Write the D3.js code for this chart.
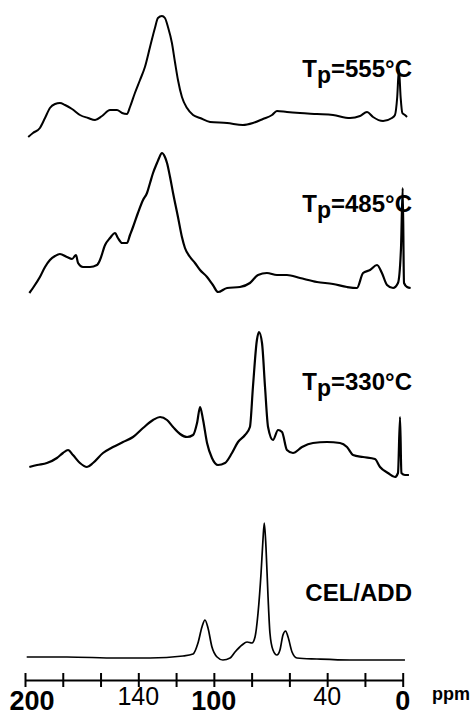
<!DOCTYPE html>
<html>
<head>
<meta charset="utf-8">
<script src="https://cdn.jsdelivr.net/npm/d3@7"></script>
<style>
  body { margin: 0; background: #fff; }
  svg { display: block; font-family: "Liberation Sans", Arial, sans-serif; }
</style>
</head>
<body>
<div id="chart"></div>
<script>
// chemical shift (ppm), intensity (arb. units)
const tp555 = [
  [198.3,0],[195.8,4],[192.1,9],[189.4,19],[186.8,29],[184.1,33],[181.5,34],[178.8,32],
  [175.1,28],[170.9,22],[166.6,19],[162.9,17],[159.2,21],[155.0,27],[151.3,27],[148.6,24],
  [146.0,23],[144.4,30],[141.8,44],[139.1,57],[136.5,70],[133.8,90],[131.2,109],[129.6,119],
  [127.5,121],[125.9,119],[124.3,110],[122.2,94],[120.6,75],[119.0,57],[116.9,40],[114.2,29],
  [111.0,22],[107.3,19],[102.0,15],[93.0,14],[84.6,12],[79.3,14],[74.0,18],[69.2,22],
  [66.6,26],[61.3,25],[54.4,24],[45.4,23],[36.9,22],[27.9,19],[22.6,21],[18.9,25],
  [15.7,20],[10.4,16],[5.7,19],[4.1,22],[2.9,40],[2.0,68],[1.1,40],[0.2,24],[-1.2,22],[-2.3,20]
];
const tp485 = [
  [197.7,0],[195.8,5],[192.1,16],[189.4,26],[186.8,33],[184.1,37],[181.5,39],[177.8,36],
  [175.1,34],[173.0,38],[171.9,30],[169.3,26],[165.6,26],[161.9,28],[160.3,33],[157.6,48],
  [155.0,55],[152.3,60],[150.8,55],[148.6,50],[146.0,50],[144.4,58],[142.8,66],[140.2,80],
  [137.5,93],[135.4,100],[133.8,110],[132.2,120],[130.1,130],[129.0,135],[127.5,140],[125.9,136],
  [124.8,130],[123.2,116],[121.6,100],[119.0,76],[116.9,56],[115.3,45],[112.6,36],[110.0,30],
  [107.3,23],[103.6,16],[100.5,8],[97.8,1],[93.0,5],[86.2,6],[80.9,10],[76.6,18],
  [71.9,20],[66.6,18],[61.3,18],[54.4,15],[45.4,11],[36.9,9],[29.5,6],[24.2,5],
  [21.0,20],[17.3,23],[13.6,28],[11.0,20],[8.3,8],[5.1,5],[2.5,10],[0.9,45],
  [0.0,105],[-0.7,10],[-2.3,6],[-4.2,5]
];
const tp330 = [
  [197.7,10],[193.6,12],[188.4,14],[183.1,19],[179.9,24],[177.2,27],[174.6,22],[170.9,14],
  [167.2,10],[164.0,14],[158.7,24],[153.4,30],[148.1,35],[142.8,40],[137.5,49],[132.2,57],
  [128.5,60],[124.8,57],[121.6,50],[117.9,43],[114.2,40],[111.0,42],[108.9,54],[107.3,70],
  [105.7,57],[103.6,34],[101.0,19],[97.8,12],[94.1,14],[90.4,24],[87.2,35],[83.5,42],
  [80.9,50],[79.3,90],[77.2,137],[76.1,145],[74.5,134],[72.9,90],[71.3,50],[68.7,37],
  [66.0,47],[63.9,45],[61.3,27],[58.1,24],[53.3,30],[47.5,34],[40.1,35],[33.2,34],
  [29.5,30],[26.3,22],[21.0,20],[14.7,18],[12.0,10],[7.8,4],[4.1,0],[2.5,4],
  [1.4,60],[0.7,4],[-1.2,2],[-3.3,2]
];
const celAdd = [
  [199.1,3],[177.8,3],[151.3,2],[133.8,2],[116.3,4],[111.0,6],[108.4,17],[106.3,33],
  [104.7,40],[103.1,32],[101.0,13],[98.3,3],[95.2,0],[91.4,2],[88.8,8],[85.1,15],
  [82.4,18],[79.8,17],[78.2,23],[76.6,47],[75.0,87],[74.0,120],[73.3,137],[72.4,113],
  [71.3,63],[70.3,27],[68.7,10],[66.6,5],[65.0,10],[63.4,25],[62.0,29],[60.7,23],
  [58.6,8],[56.0,2],[45.4,1],[27.9,0],[10.4,0],[-1.2,0]
];

const spectra = [tp555, tp485, tp330, celAdd];
const labelMain = ["T", "T", "T", "CEL/ADD"];
const labelSub = ["p", "p", "p", ""];
const labelRest = ["=555°C", "=485°C", "=330°C", ""];

const tickValues = [200, 180, 160, 140, 120, 100, 80, 60, 40, 20, 0];
const tickLabels = [200, 140, 100, 40, 0];
const boldLabels = [200, 100, 0];

const width = 476, height = 715;
const svg = d3.select("#chart").append("svg")
  .attr("width", width)
  .attr("height", height);

const x = d3.scaleLinear().domain([200, 0]).range([25, 402.7]);
// one intensity unit = one pixel, each spectrum sits on its own baseline
const y = d3.scaleLinear().domain([0, 680]).range([680, 0]);
const baselines = [543, 387, 203, 20];
const labelBaselines = [77, 212, 390, 601];
const strokes = [2, 2.2, 2.2, 1.7];

const line = d3.line()
  .x(d => x(d[0]))
  .y(d => y(d[1]))
  .curve(d3.curveMonotoneX);

spectra.forEach((s, i) => {
  svg.append("path")
    .datum(s.map(d => [d[0], d[1] + baselines[i]]))
    .attr("fill", "none")
    .attr("stroke", "#000")
    .attr("stroke-width", strokes[i])
    .attr("stroke-linejoin", "round")
    .attr("d", line);

  const t = svg.append("text")
    .attr("x", 412)
    .attr("y", labelBaselines[i])
    .attr("text-anchor", "end")
    .attr("font-weight", "bold")
    .attr("font-size", 24)
    .attr("fill", "#000");
  t.append("tspan").text(labelMain[i]);
  if (labelSub[i]) {
    t.append("tspan").attr("dy", 6).attr("font-size", 23).text(labelSub[i]);
    t.append("tspan").attr("dy", -6).text(labelRest[i]);
  }
});

// axis: ticks crossing the line
const axis = svg.append("g")
  .attr("transform", "translate(0,680)")
  .call(d3.axisBottom(x).tickValues(tickValues).tickSize(7).tickSizeOuter(0).tickFormat(""));
axis.select(".domain").attr("stroke-width", 2);
axis.selectAll(".tick line").attr("y1", -7).attr("stroke-width", 2);

svg.selectAll(".tlabel")
  .data(tickLabels)
  .join("text")
  .attr("class", "tlabel")
  .attr("x", d => x(d) + (d === 200 ? 7 : 0))
  .attr("y", d => boldLabels.includes(d) ? 710 : 705)
  .attr("text-anchor", "middle")
  .attr("font-size", d => boldLabels.includes(d) ? 27 : 25)
  .attr("font-weight", d => boldLabels.includes(d) ? "bold" : "normal")
  .text(d => d);

svg.append("text")
  .attr("x", 432)
  .attr("y", 700)
  .attr("font-size", 18)
  .attr("font-weight", "bold")
  .text("ppm");
</script>
</body>
</html>
